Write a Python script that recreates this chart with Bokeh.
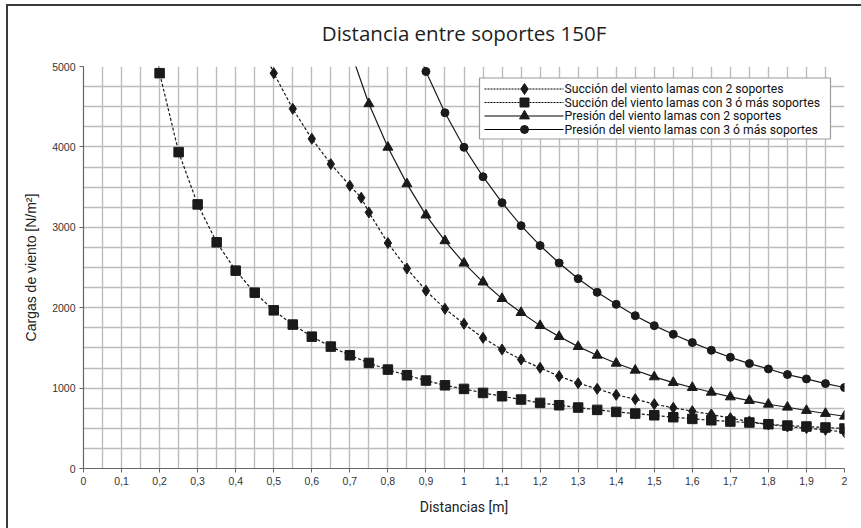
from bokeh.plotting import figure
from bokeh.models import FixedTicker, Range1d
from bokeh.core.properties import value
from bokeh.embed import file_html
from bokeh.resources import INLINE

# ---------------- data ----------------
title_text = "Distancia entre soportes 150F"
x_label = "Distancias [m]"
y_label = "Cargas de viento [N/m²]"

names = [
    "Succión del viento lamas con 2 soportes",
    "Succión del viento lamas con 3 ó más soportes",
    "Presión del viento lamas con 2 soportes",
    "Presión del viento lamas con 3 ó más soportes",
]

x_succ2 = [0.45, 0.5, 0.55, 0.6, 0.65, 0.7, 0.73, 0.75, 0.8, 0.85, 0.9, 0.95, 1.0,
           1.05, 1.1, 1.15, 1.2, 1.25, 1.3, 1.35, 1.4, 1.45, 1.5, 1.55, 1.6, 1.65,
           1.7, 1.75, 1.8, 1.85, 1.9, 1.95, 2.0]
y_succ2 = [5460, 4917, 4474, 4101, 3786, 3517, 3368, 3185, 2804, 2487, 2212, 1986, 1800,
           1625, 1480, 1356, 1252, 1148, 1061, 991, 916, 862, 800, 755, 713, 672,
           626, 585, 547, 522, 502, 481, 452]

x_succ3 = [0.15, 0.2, 0.25, 0.3, 0.35, 0.4, 0.45, 0.5, 0.55, 0.6, 0.65, 0.7, 0.75, 0.8,
           0.85, 0.9, 0.95, 1.0, 1.05, 1.1, 1.15, 1.2, 1.25, 1.3, 1.35, 1.4, 1.45,
           1.5, 1.55, 1.6, 1.65, 1.7, 1.75, 1.8, 1.85, 1.9, 1.95, 2.0]
y_succ3 = [6566, 4917, 3935, 3285, 2813, 2461, 2187, 1967, 1790, 1640, 1516, 1408, 1313, 1230,
           1160, 1094, 1035, 990, 940, 899, 858, 816, 787, 758, 729, 704, 683,
           662, 638, 617, 600, 584, 572, 551, 534, 522, 510, 497]

x_pres2 = [0.7, 0.75, 0.8, 0.85, 0.9, 0.95, 1.0, 1.05, 1.1, 1.15, 1.2, 1.25, 1.3, 1.35,
           1.4, 1.45, 1.5, 1.55, 1.6, 1.65, 1.7, 1.75, 1.8, 1.85, 1.9, 1.95, 2.0]
y_pres2 = [5214, 4536, 3995, 3540, 3152, 2832, 2554, 2319, 2113, 1939, 1777, 1641, 1516, 1408,
           1309, 1222, 1139, 1069, 1007, 948, 890, 845, 799, 762, 721, 684, 650]

x_pres3 = [0.85, 0.9, 0.95, 1.0, 1.05, 1.1, 1.15, 1.2, 1.25, 1.3, 1.35, 1.4, 1.45, 1.5,
           1.55, 1.6, 1.65, 1.7, 1.75, 1.8, 1.85, 1.9, 1.95, 2.0]
y_pres3 = [5536, 4938, 4424, 3995, 3629, 3306, 3020, 2773, 2556, 2361, 2191, 2042, 1901, 1777,
           1669, 1566, 1470, 1383, 1305, 1238, 1168, 1114, 1056, 1007]

x_ticks = [0.0, 0.1, 0.2, 0.3, 0.4, 0.5, 0.6, 0.7, 0.8, 0.9, 1.0,
           1.1, 1.2, 1.3, 1.4, 1.5, 1.6, 1.7, 1.8, 1.9, 2.0]
x_tick_labels = ["0", "0,1", "0,2", "0,3", "0,4", "0,5", "0,6", "0,7", "0,8", "0,9", "1",
                 "1,1", "1,2", "1,3", "1,4", "1,5", "1,6", "1,7", "1,8", "1,9", "2"]
x_minor = [0.05, 0.15, 0.25, 0.35, 0.45, 0.55, 0.65, 0.75, 0.85, 0.95,
           1.05, 1.15, 1.25, 1.35, 1.45, 1.55, 1.65, 1.75, 1.85, 1.95]
y_ticks = [0, 1000, 2000, 3000, 4000, 5000]
y_minor = [250, 500, 750, 1250, 1500, 1750, 2250, 2500, 2750, 3250, 3500, 3750,
           4250, 4500, 4750]

# ---------------- layout constants (pixels) ----------------
X0, X1 = 0.0, 2.0
Y0, Y1 = 0.0, 5000.0
FRAME_LEFT, FRAME_TOP, FRAME_W, FRAME_H = 83, 66, 761, 402


def dx(px):
    return X0 + (px - FRAME_LEFT) / FRAME_W * (X1 - X0)


def dy(py):
    return Y0 + (FRAME_TOP + FRAME_H - py) / FRAME_H * (Y1 - Y0)


INK = "#1a1a1a"
GRID = "#bcbcbc"
DASH = "3 2"
EDGE = "#3a3a3a"

p = figure(width=861, height=528, x_range=Range1d(X0, X1), y_range=Range1d(Y0, Y1),
           output_backend="svg", toolbar_location=None,
           min_border_left=83, min_border_right=17, min_border_top=66, min_border_bottom=60)
# outer chart frame: only its left and top edges fall inside the picture
p.styles = {"box-shadow": ("inset 0 4px 0 0 #ffffff, inset 6px 0 0 0 #ffffff, "
                           f"inset 0 6px 0 0 {EDGE}, inset 8px 0 0 0 {EDGE}")}
p.border_fill_color = None
p.outline_line_color = None
p.background_fill_color = "white"

p.title.text = title_text
p.title.align = "center"
p.title.vertical_align = "top"
p.title.text_font = "Open Sans"
p.title.text_font_size = "20.5px"
p.title.text_font_style = "normal"
p.title.text_color = "#1e1e1e"
p.title.standoff = 36

p.xaxis.ticker = FixedTicker(ticks=x_ticks, minor_ticks=x_minor)
p.yaxis.ticker = FixedTicker(ticks=y_ticks, minor_ticks=y_minor)
p.xaxis.major_label_overrides = {t: l for t, l in zip(x_ticks, x_tick_labels)}

for ax in (p.xaxis, p.yaxis):
    ax.major_label_text_font = "Liberation Sans"
    ax.major_label_text_font_size = "10.5px"
    ax.major_label_text_color = "#333333"
    ax.axis_label_text_font_style = "normal"
    ax.axis_label_text_color = "#222222"
    ax.axis_line_color = "#666666"
    ax.axis_line_width = 1.2
    ax.major_tick_line_color = "#666666"
    ax.major_tick_in = 0
    ax.major_tick_out = 4
    ax.minor_tick_line_color = None
    ax.major_label_standoff = 4
    ax.axis_label_standoff = 11
p.xaxis.axis_label = x_label
p.xaxis.axis_label_text_font = "Roboto"
p.xaxis.axis_label_text_font_size = "14px"
p.yaxis.axis_label = y_label
p.yaxis.axis_label_text_font = "Liberation Sans"
p.yaxis.axis_label_text_font_size = "14px"
p.yaxis.axis_label_standoff = 10

for g in (p.xgrid, p.ygrid):
    g.grid_line_color = GRID
    g.grid_line_width = 1.4
    g.minor_grid_line_color = GRID
    g.minor_grid_line_width = 1.4

series = [
    (x_succ2, y_succ2, "diamond", 11, DASH),
    (x_succ3, y_succ3, "square", 9.5, DASH),
    (x_pres2, y_pres2, "triangle", 10, "solid"),
    (x_pres3, y_pres3, "circle", 8, "solid"),
]
for xs, ys, mk, sz, dash in series:
    p.line(xs, ys, line_color=INK, line_width=1.2, line_dash=dash)
    p.scatter(xs, ys, marker=mk, size=sz, color=INK)

# ---------------- legend box (drawn inside the plot area) ----------------
LEG_L, LEG_R, LEG_T, LEG_B = 479, 830, 77.5, 138.5
ROW0, ROW_STEP = 88.5, 13.5
SEG_L, SEG_R, MARK_X, TEXT_X = 484, 563, 524, 564

p.quad(left=[dx(LEG_L)], right=[dx(LEG_R)], top=[dy(LEG_T)], bottom=[dy(LEG_B)],
       fill_color="white", line_color="#9a9a9a", line_width=1.2)
legend_dash = ["2 1", "2 1", "solid", "solid"]
leg_sizes = [11, 9, 10, 8]
for i, (xs, ys, mk, sz, dash) in enumerate(series):
    ry = dy(ROW0 + i * ROW_STEP)
    p.line([dx(SEG_L), dx(SEG_R)], [ry, ry], line_color="#000000", line_width=1.2,
           line_dash=legend_dash[i])
    p.scatter([dx(MARK_X)], [ry], marker=mk, size=leg_sizes[i], color=INK)
p.text(x=[dx(TEXT_X)] * 4, y=[dy(ROW0 + i * ROW_STEP) for i in range(4)], text=names,
       text_font=value("Roboto"), text_font_size="12.2px", text_color="#111111",
       text_baseline="middle", text_align="left")

open("out.html", "w").write(file_html(p, INLINE))
